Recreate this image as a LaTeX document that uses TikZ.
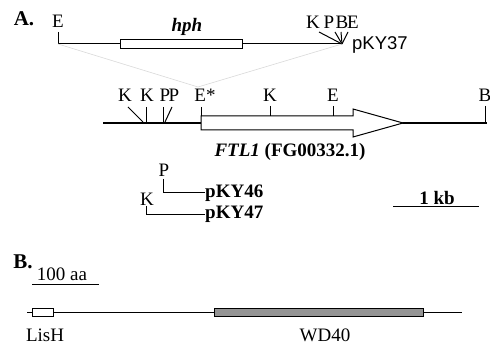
\documentclass[tikz,border=0pt]{standalone}
\usepackage{fontspec}
\setmainfont{Liberation Serif}
\newfontfamily\arialfont{Liberation Sans}
\usepackage{tikz}

\begin{document}
\begin{tikzpicture}[x=1pt,y=-1pt,
  lbl/.style={inner sep=0pt,font=\fontsize{19}{21}\selectfont},
  blbl/.style={inner sep=0pt,font=\fontsize{19}{21}\selectfont\bfseries},
  panel/.style={inner sep=0pt,font=\fontsize{21}{23}\selectfont\bfseries},
  site/.style={line width=1pt},
  dna/.style={line width=2pt},
]
\useasboundingbox (0,0) rectangle (490,344);

%==================== A. pKY37 ====================
\node[panel] (pa) at (24,19) {A.};
\node[lbl] (eTop) at (58,21) {E};
\coordinate (eEnd) at (58,44);
\coordinate (kpbe) at (342,44);
\draw[site] (58,32) -- (eEnd) -- (kpbe);
\draw[site,fill=white] (120,40) rectangle (242,49);
\node[blbl] (hph) at (187,27) {\itshape hph};

% KPBE
\foreach \x/\lab/\nm in {313/K/kt,329/P/pt,342/B/bt,353/E/et}
{
    \node[lbl] (\nm) at (\x,22) {\lab};
}
\foreach \x in {319,335,341,348}
{
    \draw[site] (\x,32) -- (kpbe);
}
\node[inner sep=0pt,anchor=west,font=\arialfont\fontsize{18.5}{20}\selectfont] (p37) at (352,45) {pKY37};

% gray lines down to E*
\coordinate (apex) at (198,87);
\draw[black!15,line width=0.6pt] (eEnd) -- (apex) -- (kpbe);

%==================== FTL1 locus ====================
\draw[dna] (103,123) -- (487,123);
\draw[site,fill=white] (201,116) -- (353,116) -- (353,109) -- (403,123)
    -- (353,137) -- (353,130) -- (201,130) -- cycle;

% site labels
\foreach \x/\lab/\nm in {125/K/ka,147/K/kb,165/P/pa1,174/P/pb1,205/E*/es,270/K/kc,333/E/ea,485/B/ba}
{
    \node[lbl] (\nm) at (\x,95) {\lab};
}
% site ticks
\foreach \xa/\ya/\xb/\yb in {
128/107/143/122,146/107/146/122,163/107/163/122,172/107/165/122,
201/107/201/116,270/106/270/116,333/106/333/116,485/106/485/122
}{
    \draw[site] (\xa,\ya) -- (\xb,\yb);
}
\node[blbl] (ftl) at (290,152) {\itshape FTL1\upshape\ (FG00332.1)};

%==================== pKY46 / pKY47 ====================
\node[lbl] (p46s) at (164,170) {P};
\node[blbl,anchor=west] (p46) at (205,193) {pKY46};
\draw[site] (163,179) -- (163,193) -- (p46.west);
\node[lbl] (p47s) at (147,199) {K};
\node[blbl,anchor=west] (p47) at (205,214) {pKY47};
\draw[site] (146,206) -- (146,215) -- (p47.west|-146,215);

% 1 kb
\node[blbl] (kb) at (437,198) {1 kb};
\draw[site] (393,207) -- (479,207);

%==================== B. protein ====================
\node[panel] (pb) at (23,262) {B.};
\node[lbl] (aa) at (62,274) {100 aa};
\draw[site] (32,285) -- (99,285);

\draw[line width=0.9pt] (27,312) -- (462,312);
\draw[line width=0.9pt,fill=white] (32,308) rectangle (53,316);
\draw[line width=0.9pt,fill=black!42] (214,308) rectangle (423,316);
\node[lbl] (lish) at (45,335) {LisH};
\node[lbl] (wd) at (325,335) {WD40};

\end{tikzpicture}
\end{document}
